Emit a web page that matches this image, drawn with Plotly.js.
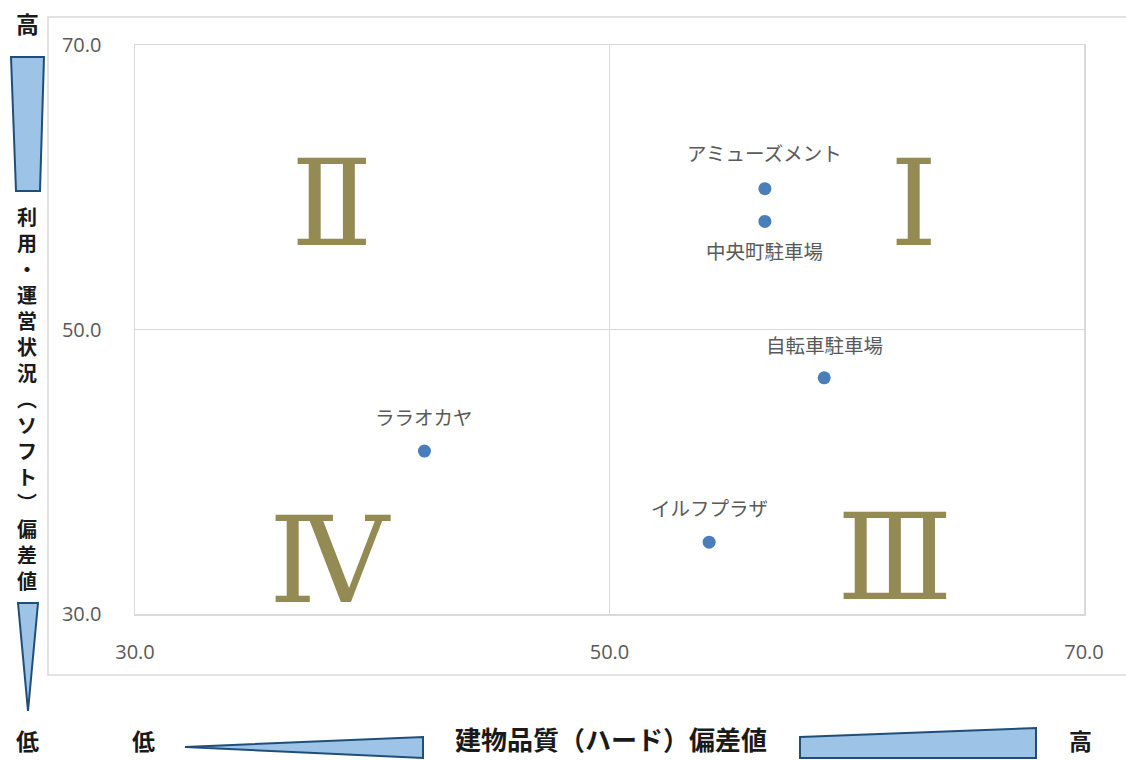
<!DOCTYPE html>
<html>
<head>
<meta charset="utf-8">
<script src="https://cdn.plot.ly/plotly-3.0.1.min.js"></script>
<style>
html,body{margin:0;padding:0;background:#fff;}
#chart{width:1126px;height:760px;}
</style>
</head>
<body>
<div id="chart"></div>
<script>
// ---- data ----
var facilities = ["アミューズメント", "中央町駐車場", "自転車駐車場", "ララオカヤ", "イルフプラザ"];
var hardScore = [56.55, 56.55, 59.05, 42.2, 54.2];   // 建物品質（ハード）偏差値
var softScore = [59.9, 57.6, 46.6, 41.45, 35.05];    // 利用・運営状況（ソフト）偏差値
var axisTicks = [30, 50, 70];
var quadrantLabels = ["Ⅰ", "Ⅱ", "Ⅲ", "Ⅳ"];
var xTitle = "建物品質（ハード）偏差値";
var yTitleChars = ["利","用","・","運","営","状","況","︵","ソ","フ","ト","︶","偏","差","値"];
var lowText = "低", highText = "高";

// ---- layout helpers (pixel -> paper) ----
var L = 135, R = 1084, T = 45, B = 614, W = 1126, H = 760;
function px(x){ return (x - L) / (R - L); }
function py(y){ return (B - y) / (B - T); }
function path(pts){
  return "M" + pts.map(function(p){ return px(p[0]).toFixed(5) + "," + py(p[1]).toFixed(5); }).join(" L") + " Z";
}

var labelShift = [36, -29, 33, 35, 35];

var annotations = [];
for (var i = 0; i < facilities.length; i++) {
  annotations.push({
    x: hardScore[i], y: softScore[i], xref: "x", yref: "y",
    text: facilities[i], showarrow: false, yshift: labelShift[i],
    font: {family: "Noto Sans CJK JP", size: 19.5, color: "#595959"},
    xanchor: "center", yanchor: "middle"
  });
}

var romanPos = [[913, 203], [332, 203], [895, 557], [330, 560]];
for (var j = 0; j < quadrantLabels.length; j++) {
  annotations.push({
    x: px(romanPos[j][0]), y: py(romanPos[j][1]), xref: "paper", yref: "paper",
    text: quadrantLabels[j], showarrow: false, xanchor: "center", yanchor: "middle",
    font: {family: "DejaVu Serif", size: 120, color: "#948A54"}
  });
}

function boldFont(sz){ return {family: "Noto Sans CJK JP", size: sz, color: "#1a1a1a", weight: 700}; }
function txt(t, x, y, sz, ya){
  annotations.push({x: px(x), y: py(y), xref: "paper", yref: "paper", text: t, showarrow: false,
           xanchor: "center", yanchor: ya || "middle", font: boldFont(sz)});
}
txt(highText, 27, 23, 23);
txt(lowText, 27, 740, 23);
txt(yTitleChars.join("<br>"), 27, 398, 20);
txt(lowText, 143, 759, 23, "bottom");
txt(xTitle, 611, 759, 26, "bottom");
txt(highText, 1080, 759, 23, "bottom");

var fillBlue = "#9DC3E6", lineBlue = "#1F4E79";
var shapes = [
  {type: "rect", xref: "paper", yref: "paper", x0: px(48), x1: px(1140), y0: py(675), y1: py(17),
   line: {color: "#D9D9D9", width: 1.5}, fillcolor: "rgba(0,0,0,0)", layer: "below"},
  {type: "path", xref: "paper", yref: "paper", path: path([[11,57],[44,57],[40,191],[16,191]]),
   fillcolor: fillBlue, line: {color: lineBlue, width: 2}},
  {type: "path", xref: "paper", yref: "paper", path: path([[18,603],[38,603],[28,711]]),
   fillcolor: fillBlue, line: {color: lineBlue, width: 2}},
  {type: "path", xref: "paper", yref: "paper", path: path([[185,747],[423,737],[423,758]]),
   fillcolor: fillBlue, line: {color: lineBlue, width: 2}},
  {type: "path", xref: "paper", yref: "paper", path: path([[800,737],[1036,728],[1036,758],[800,758]]),
   fillcolor: fillBlue, line: {color: lineBlue, width: 2}}
];

var trace = {
  type: "scatter", mode: "markers",
  x: hardScore, y: softScore, text: facilities,
  marker: {color: "#4A7EBB", size: 13},
  hoverinfo: "text", cliponaxis: false
};

var axisCommon = {
  range: [30, 70], tickvals: axisTicks, tickformat: ".1f",
  showgrid: true, gridcolor: "#D9D9D9", gridwidth: 1.5,
  zeroline: false, showline: true, mirror: true, linecolor: "#D9D9D9", linewidth: 1.5,
  ticks: "", tickfont: {family: "Open Sans", size: 20, color: "#595959"}, fixedrange: true
};

var layout = {
  width: W, height: H,
  margin: {l: L, r: W - R, t: T, b: H - B},
  paper_bgcolor: "#ffffff", plot_bgcolor: "#ffffff",
  showlegend: false,
  xaxis: Object.assign({}, axisCommon, {ticklabelstandoff: 19}),
  yaxis: Object.assign({}, axisCommon, {ticklabelstandoff: 28}),
  annotations: annotations,
  shapes: shapes
};

Plotly.newPlot("chart", [trace], layout, {displayModeBar: false, staticPlot: true});
</script>
</body>
</html>
